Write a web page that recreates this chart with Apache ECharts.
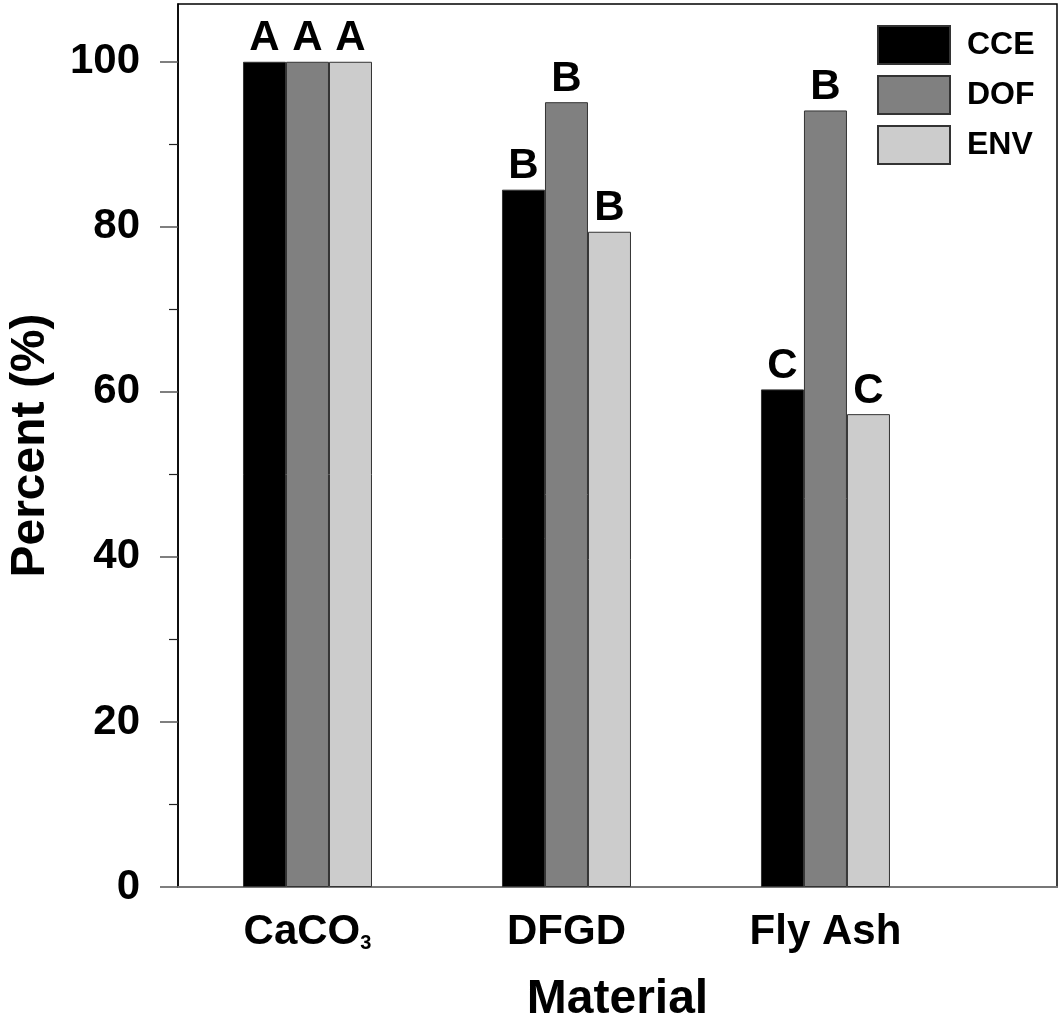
<!DOCTYPE html>
<html>
<head>
<meta charset="utf-8">
<script src="https://cdn.jsdelivr.net/npm/echarts@6/dist/echarts.min.js"></script>
<style>html,body{margin:0;padding:0;background:#fff}#c{width:1063px;height:1018px}</style>
</head>
<body>
<div id="c"></div>
<script>
// ---- data ----
var categories = ['CaCO3', 'DFGD', 'Fly Ash'];
var seriesNames = ['CCE', 'DOF', 'ENV'];
var cceValues = [100, 84.5, 60.3];
var dofValues = [100, 95.1, 94.1];
var envValues = [100, 79.4, 57.3];
var cceLetters = ['A', 'B', 'C'];
var dofLetters = ['A', 'B', 'B'];
var envLetters = ['A', 'B', 'C'];
var yTicks = [0, 20, 40, 60, 80, 100];
var yMinorTicks = [10, 30, 50, 70, 90];

var FONT = '"Liberation Sans", Arial, Helvetica, sans-serif';
var colors = ['#000000', '#808080', '#cccccc'];

function toPoints(vals) { return vals.map(function (v, i) { return [i + 1, v]; }); }

function barSeries(name, vals, letters, color) {
  return {
    name: name, type: 'bar', barWidth: 43, barGap: '0%',
    xAxisIndex: 0, yAxisIndex: 0,
    data: toPoints(vals),
    itemStyle: { color: color, borderColor: '#333', borderWidth: 1 },
    label: {
      show: true, position: 'top', distance: 2,
      formatter: function (p) { return letters[p.dataIndex]; },
      fontFamily: FONT, fontWeight: 'bold', fontSize: 42, color: '#000', lineHeight: 42
    }
  };
}

var chart = echarts.init(document.getElementById('c'), null, { renderer: 'canvas' });
chart.setOption({
  animation: false,
  backgroundColor: '#fff',
  grid: { left: 178, top: 4, right: 6, bottom: 131, outerBoundsMode: 'none', containLabel: false, show: true, borderColor: '#000', borderWidth: 1.5, backgroundColor: 'transparent' },
  legend: {
    data: seriesNames, orient: 'vertical', left: 877, top: 25, padding: 0,
    itemWidth: 72, itemHeight: 38, itemGap: 10, icon: 'rect',
    textStyle: { fontFamily: FONT, fontWeight: 'bold', fontSize: 32, color: '#000', padding: [0, 0, 0, 12] }
  },
  xAxis: {
    type: 'value', min: 0.5, max: 3.894,
    splitLine: { show: false },
    axisLine: { show: true, lineStyle: { color: '#777', width: 2 } },
    axisTick: { show: false },
    axisLabel: {
      customValues: [1, 2, 3], margin: 24,
      formatter: function (v) {
        var c = categories[Math.round(v) - 1];
        if (c === 'CaCO3') return '{b|CaCO}{s|3}';
        return '{b|' + c + '}';
      },
      rich: {
        b: { fontFamily: FONT, fontWeight: 'bold', fontSize: 42, lineHeight: 42, color: '#000' },
        s: { fontFamily: FONT, fontWeight: 'bold', fontSize: 20, lineHeight: 16, color: '#000', verticalAlign: 'bottom' }
      }
    },
    name: 'Material', nameLocation: 'middle', nameGap: 89,
    nameTextStyle: { fontFamily: FONT, fontWeight: 'bold', fontSize: 48, color: '#000', lineHeight: 48 }
  },
  yAxis: [{
    type: 'value', min: 0, max: 107,
    splitLine: { show: false },
    axisLine: { show: true, lineStyle: { color: '#000', width: 1.5 } },
    axisTick: { show: true, customValues: yTicks, length: 18, inside: false, lineStyle: { color: '#555', width: 1.5 } },
    axisLabel: {
      customValues: yTicks, margin: 38,
      fontFamily: FONT, fontWeight: 'bold', fontSize: 42, color: '#000'
    },
    name: 'Percent (%)', nameLocation: 'middle', nameGap: 123,
    nameTextStyle: { fontFamily: FONT, fontWeight: 'bold', fontSize: 48, color: '#000', lineHeight: 48 }
  }, {
    type: 'value', min: 0, max: 107, position: 'left',
    splitLine: { show: false },
    axisLine: { show: false },
    axisTick: { show: true, customValues: yMinorTicks, length: 9, inside: false, lineStyle: { color: '#222', width: 1.2 } },
    axisLabel: { show: false }
  }],
  series: [
    barSeries(seriesNames[0], cceValues, cceLetters, colors[0]),
    barSeries(seriesNames[1], dofValues, dofLetters, colors[1]),
    barSeries(seriesNames[2], envValues, envLetters, colors[2])
  ]
});
</script>
</body>
</html>
